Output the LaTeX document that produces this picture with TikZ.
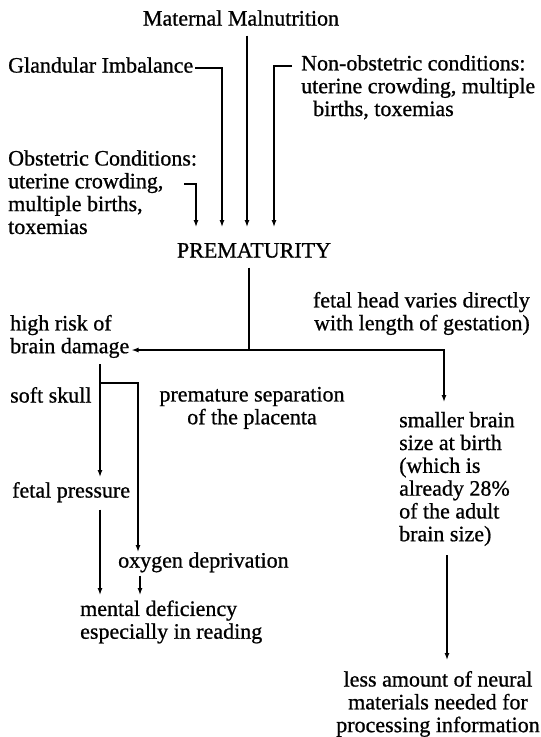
\documentclass[tikz,border=0pt]{standalone}
\usepackage{fontspec}
\setmainfont{Liberation Serif}
\newfontfamily\scanfont[FakeBold=0.8]{Liberation Serif}
\usetikzlibrary{arrows.meta,calc}
\begin{document}
\begin{tikzpicture}[x=1pt,y=-1pt,
  txt/.style={inner sep=0pt, font=\scanfont\fontsize{22}{22.8}\selectfont,
    execute at begin node=\strut, execute at end node=\strut},
  ln/.style={line width=1.3pt},
  arr/.style={line width=1.3pt, -{Latex[length=7pt,width=5pt]}}]
\useasboundingbox (0,0) rectangle (541,737);
\fill[white] (0,0) rectangle (541,737);
% nodes
\node[txt] (mm) at (241,21) {Maternal Malnutrition};
\node[txt,anchor=west] (gi) at (8,68) {Glandular Imbalance};
\node[txt,anchor=west,align=left] (no) at (301,89) {Non-obstetric conditions:\\uterine crowding, multiple\\\hspace*{12pt}births, toxemias};
\node[txt,anchor=west,align=left] (ob) at (8,195.5) {Obstetric Conditions:\\uterine crowding,\\multiple births,\\toxemias};
\node[txt] (pm) at (254,253) {PREMATURITY};
\node[txt,anchor=east,align=right] (fh) at (530,314.5) {fetal head varies directly\\with length of gestation)};
\node[txt,anchor=west,align=left] (hr) at (10,337.5) {high risk of\\brain damage};
\node[txt,anchor=west] (ss) at (10,398) {soft skull};
\node[txt,align=center] (ps) at (252,409) {premature separation\\of the placenta};
\node[txt,anchor=west,align=left] (sb) at (399,480) {smaller brain\\size at birth\\(which is\\already 28\%\\of the adult\\brain size)};
\node[txt,anchor=west] (fp) at (12,493) {fetal pressure};
\node[txt,anchor=west] (ox) at (118,563) {oxygen deprivation};
\node[txt,anchor=west,align=left] (md) at (80,623) {mental deficiency\\especially in reading};
\node[txt,align=center] (la) at (438,705) {less amount of neural\\materials needed for\\processing information};
% connector coordinates
\coordinate (a1) at (196,227);
\coordinate (a2) at (222,227);
\coordinate (a3) at (247,227);
\coordinate (a4) at (274,227);
\coordinate (obh) at (184,184);
\coordinate (noh) at (292,66);
\coordinate (sp) at (249,350);
\coordinate (sbt) at (444,402);
\coordinate (l1) at (100,477);
\coordinate (br) at (100,383);
\coordinate (l2) at (138,552);
\coordinate (l1b) at (100,595);
\coordinate (l2b) at (140,595);
\coordinate (l3) at (447,660);
% connectors
\draw[arr] (obh) -| (a1);
\draw[arr] ([xshift=2pt]gi.east) -| (a2);
\draw[arr] ($(a3 |- mm.south)+(0,3)$) -- (a3);
\draw[arr] (noh) -| (a4);
\draw[ln] ($(sp |- pm.south)+(0,3)$) -- (sp);
\draw[arr] (sp) -- ($(hr.east |- sp)+(2,0)$);
\draw[arr] (sp) -| (sbt);
\draw[arr] ($(l1 |- hr.south)+(0,4)$) -- (l1);
\draw[arr] (br) -| (l2);
\draw[arr] ($(l1b |- fp.south)+(0,5)$) -- (l1b);
\draw[arr] ($(l2b |- ox.south)+(0,1)$) -- (l2b);
\draw[arr] ($(l3 |- sb.south)+(0,7)$) -- (l3);
\end{tikzpicture}
\end{document}
